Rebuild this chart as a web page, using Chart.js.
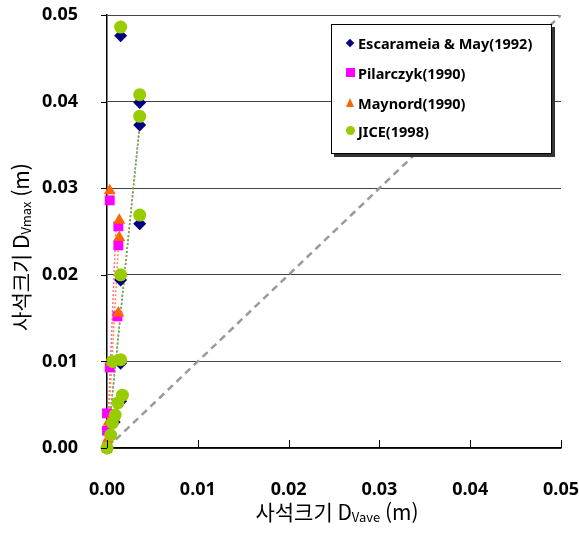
<!DOCTYPE html>
<html lang="ko">
<head>
<meta charset="UTF-8" />
<title>사석크기 비교</title>
<script src="https://cdn.jsdelivr.net/npm/chart.js"></script>
<style>
  body { margin: 0; background: #fff; }
  #wrap { position: relative; width: 579px; height: 540px; }
  #legend {
    position: absolute; left: 331px; top: 24px; width: 219px; height: 128px;
    background: #fff; border: 1px solid #000; box-shadow: 3px 3px 0 #333;
    font-family: 'Noto Sans', sans-serif; font-weight: bold; font-size: 14.5px; color: #000;
  }
  .row { position: absolute; left: 0; height: 20px; line-height: 20px; white-space: nowrap; }
  .row span.txt { position: absolute; left: 26px; top: 0; }
  .mk { position: absolute; }
  .dia { left: 15px; top: 7px; width: 6px; height: 6px; background: #000080; transform: rotate(45deg); }
  .sq { left: 14px; top: 5px; width: 9px; height: 9px; background: #ff00ff; }
  .tri { left: 14px; top: 5px; width: 0; height: 0; border-left: 4.5px solid transparent; border-right: 4.5px solid transparent; border-bottom: 9px solid #ff6600; }
  .cir { left: 14px; top: 5px; width: 9px; height: 9px; border-radius: 50%; background: #99cc00; }
</style>
</head>
<body>
<div id="wrap">
  <canvas id="c" width="579" height="540"></canvas>
  <div id="legend">
    <div class="row" style="top:8px"><i class="mk dia"></i><span class="txt">Escarameia &amp; May(1992)</span></div>
    <div class="row" style="top:38px"><i class="mk sq"></i><span class="txt">Pilarczyk(1990)</span></div>
    <div class="row" style="top:68px"><i class="mk tri"></i><span class="txt">Maynord(1990)</span></div>
    <div class="row" style="top:96px"><i class="mk cir"></i><span class="txt">JICE(1998)</span></div>
  </div>
</div>
<script>
// axis ticks
const tickVals = [0, 0.01, 0.02, 0.03, 0.04, 0.05];

// Escarameia & May(1992)
const escX = [0.0015, 0.0036, 0.0036, 0.0036, 0.0015, 0.0015, 0.0015, 0.0008, 0.0000];
const escY = [0.0476, 0.0399, 0.0373, 0.0259, 0.0194, 0.0098, 0.0054, 0.0030, 0.0000];
// Pilarczyk(1990)
const pilX = [0.0003, 0.00125, 0.00125, 0.00115, 0.0003, 0.0000, 0.0000, 0.0000];
const pilY = [0.0286, 0.0256, 0.0234, 0.0152, 0.0093, 0.0040, 0.0020, 0.0000];
// Maynord(1990)
const mayX = [0.0003, 0.00135, 0.00135, 0.00125, 0.00045, 0.0002, 0.0001, 0.0000];
const mayY = [0.0297, 0.0263, 0.0243, 0.0156, 0.0099, 0.0030, 0.0010, 0.0000];
// JICE(1998)
const jiceX = [0.0015, 0.0036, 0.0036, 0.0036, 0.0015, 0.0015, 0.0006, 0.0017, 0.0012, 0.0009, 0.0006, 0.0004, 0.0000];
const jiceY = [0.0486, 0.0408, 0.0383, 0.0269, 0.0200, 0.0102, 0.0100, 0.0061, 0.0052, 0.0038, 0.0029, 0.0015, 0.0000];

// trend lines (dotted)
const escTrendX = [0, 0.0036], escTrendY = [0, 0.0373];
const jiceTrendX = [0, 0.00365], jiceTrendY = [0, 0.0378];
const pilTrendX = [0, 0.00097], pilTrendY = [0, 0.0251];
const mayTrendX = [0, 0.0013], mayTrendY = [0, 0.0243];
// 1:1 line
const diagX = [0, 0.05], diagY = [0, 0.05];

function pts(xs, ys) { return xs.map((x, i) => ({ x: x, y: ys[i] })); }

const NAVY = '#000080', PINK = '#ff00ff', ORANGE = '#ff6600', GREEN = '#99cc00';
const CLEAR = 'rgba(0,0,0,0)';

function marker(label, xs, ys, color, style, r, order) {
  return { label, data: pts(xs, ys), backgroundColor: color, borderColor: color, borderWidth: 0,
    pointStyle: style, pointRadius: r, pointHoverRadius: r, showLine: false, order, clip: false };
}
function trend(xs, ys, color, order, dash, w) {
  return { data: pts(xs, ys), borderColor: color, borderWidth: w || 1.5, borderDash: dash || [2, 2],
    pointRadius: 0, showLine: true, fill: false, order };
}

// visible tick marks (x: inward, y: outward) + axis titles with subscripts
const decor = {
  id: 'decor',
  afterDraw(chart) {
    const ctx = chart.ctx, xs = chart.scales.x, ys = chart.scales.y, a = chart.chartArea;
    ctx.save();
    ctx.strokeStyle = '#000'; ctx.lineWidth = 1;
    tickVals.forEach(v => {
      const px = Math.round(xs.getPixelForValue(v)) + 0.5;
      ctx.beginPath(); ctx.moveTo(px, a.bottom); ctx.lineTo(px, a.bottom - 8); ctx.stroke();
      const py = Math.round(ys.getPixelForValue(v)) + 0.5;
      ctx.beginPath(); ctx.moveTo(a.left, py); ctx.lineTo(a.left - 6, py); ctx.stroke();
    });
    ctx.restore();
    richText(ctx, [['사석크기 D', 21, 0], ['Vave', 13, 5], [' (m)', 21, 0]], 337, 512, 0);
    richText(ctx, [['사석크기 D', 21, 0], ['Vmax', 13, 5], [' (m)', 21, 0]], 21, 247, -Math.PI / 2);
  }
};
function richText(ctx, parts, cx, cy, rot) {
  ctx.save();
  ctx.translate(cx, cy); ctx.rotate(rot);
  ctx.fillStyle = '#000'; ctx.textBaseline = 'middle';
  let total = 0;
  parts.forEach(p => { ctx.font = p[1] + "px 'Noto Sans CJK KR', sans-serif"; total += ctx.measureText(p[0]).width; });
  let x = -total / 2;
  parts.forEach(p => {
    ctx.font = p[1] + "px 'Noto Sans CJK KR', sans-serif";
    ctx.fillText(p[0], x, p[2]);
    x += ctx.measureText(p[0]).width;
  });
  ctx.restore();
}

new Chart(document.getElementById('c'), {
  type: 'scatter',
  data: {
    datasets: [
      marker('JICE(1998)', jiceX, jiceY, GREEN, 'circle', 6.5, 0),
      marker('Maynord(1990)', mayX, mayY, ORANGE, 'triangle', 7, 1),
      marker('Pilarczyk(1990)', pilX, pilY, PINK, 'rect', 7, 2),
      marker('Escarameia & May(1992)', escX, escY, NAVY, 'rectRot', 6.5, 3),
      trend(jiceTrendX, jiceTrendY, '#88aa44', 4),
      trend(escTrendX, escTrendY, '#556677', 5),
      trend(mayTrendX, mayTrendY, '#ff8844', 6),
      trend(pilTrendX, pilTrendY, '#ff6699', 7),
      trend(diagX, diagY, '#9a9a9a', 8, [7, 5], 2.5)
    ]
  },
  options: {
    responsive: false,
    animation: false,
    layout: { padding: { left: 0, top: 15, right: 17, bottom: 0 } },
    plugins: { legend: { display: false }, tooltip: { enabled: false } },
    scales: {
      x: {
        type: 'linear', min: 0, max: 0.05,
        afterBuildTicks: s => { s.ticks = tickVals.map(v => ({ value: v })); },
        ticks: { callback: v => v.toFixed(2), padding: 0, color: '#000', maxRotation: 0,
          font: { family: "'Noto Sans', sans-serif", size: 18, weight: 'bold' } },
        grid: { drawOnChartArea: false, drawTicks: true, tickLength: 31, tickColor: CLEAR },
        border: { color: '#000', width: 1.5 },
        afterFit: s => { s.height = 92; }
      },
      y: {
        type: 'linear', min: 0, max: 0.05,
        afterBuildTicks: s => { s.ticks = tickVals.map(v => ({ value: v })); },
        ticks: { callback: v => v.toFixed(2), padding: 0, color: '#000',
          font: { family: "'Noto Sans', sans-serif", size: 18, weight: 'bold' } },
        grid: { color: '#444', lineWidth: 1, tickLength: 29, tickColor: CLEAR },
        border: { color: '#000', width: 1.5 },
        afterFit: s => { s.width = 107; }
      }
    }
  },
  plugins: [decor]
});
</script>
</body>
</html>
